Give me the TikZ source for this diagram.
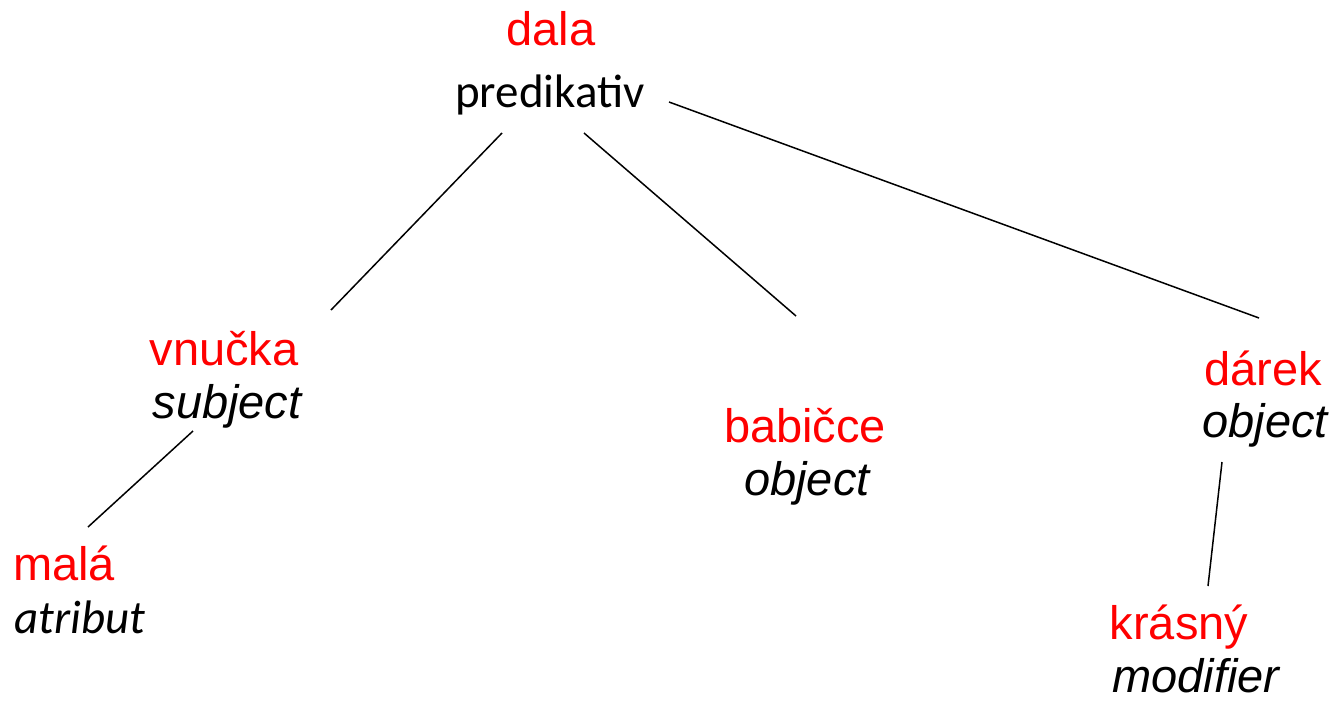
\documentclass[tikz,border=0pt]{standalone}
\usepackage{fontspec}
\setmainfont{Liberation Sans}
\newfontfamily\calib{Carlito}
\definecolor{wred}{RGB}{255,0,0}
\tikzset{
  word/.style={anchor=base, text=wred, inner sep=0pt, font=\fontsize{47}{50}\selectfont},
  role/.style={anchor=base, text=black, inner sep=0pt, font=\fontsize{47}{50}\selectfont\itshape},
  crole/.style={anchor=base, text=black, inner sep=0pt, font=\fontsize{47}{50}\selectfont\calib},
  edge/.style={draw=black, line width=1.5pt}
}
\begin{document}
\begin{tikzpicture}[x=1pt,y=-1pt]
\useasboundingbox (0,0) rectangle (1338,702);
\node[word] (dala) at (551,45) {dala};
\node[crole] (pred) at (550,107) {predikativ};
\node[word] (vnucka) at (224,365) {vnučka};
\node[role] (subj) at (227,418) {subject};
\node[word] (babicce) at (805,442) {babičce};
\node[role] (obj1) at (807,495) {object};
\node[word] (darek) at (1263,385) {dárek};
\node[role] (obj2) at (1265,437) {object};
\node[word] (mala) at (64,580) {malá};
\node[crole,font=\fontsize{47}{50}\selectfont\calib\itshape] (atr) at (80,633) {atribut};
\node[word] (krasny) at (1179,639) {krásný};
\node[role] (mod) at (1196,692) {modifier};
\coordinate (p1) at (502,133); \coordinate (v1) at (331,310);
\coordinate (p2) at (584,133); \coordinate (b1) at (796,316);
\coordinate (p3) at (669,102); \coordinate (d1) at (1259,318);
\coordinate (s1) at (193,431); \coordinate (m1) at (88,527);
\coordinate (o1) at (1222,462); \coordinate (k1) at (1208,586);
\draw[edge] (p1) -- (v1);
\draw[edge] (p2) -- (b1);
\draw[edge] (p3) -- (d1);
\draw[edge] (s1) -- (m1);
\draw[edge] (o1) -- (k1);
\end{tikzpicture}
\end{document}
